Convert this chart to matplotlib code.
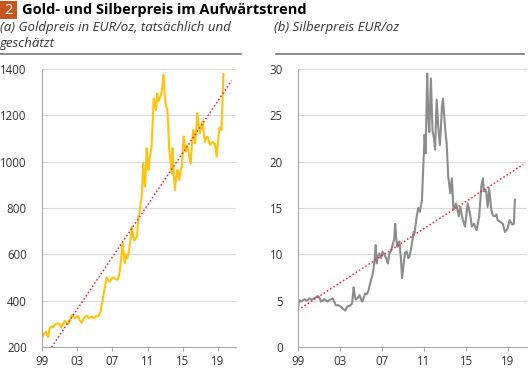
import numpy as np
import matplotlib.pyplot as plt
from matplotlib.patches import Rectangle

plt.rcParams['font.family'] = ['Open Sans', 'DejaVu Sans']

# Goldpreis EUR/oz
gold_years = [1999.0, 1999.1, 1999.3, 1999.45, 1999.7, 1999.85, 2000.1, 2000.3, 2000.5, 2000.85,
              2001.0, 2001.2, 2001.4, 2001.6, 2001.8, 2002.0, 2002.2, 2002.4, 2002.6, 2002.75,
              2003.0, 2003.1, 2003.3, 2003.5, 2003.7, 2003.9, 2004.1, 2004.3, 2004.5, 2004.65,
              2004.85, 2005.0, 2005.2, 2005.4, 2005.65, 2005.95, 2006.2, 2006.35, 2006.5, 2006.7,
              2006.9, 2007.1, 2007.3, 2007.55, 2007.7, 2007.85, 2008.0, 2008.15, 2008.3, 2008.4,
              2008.55, 2008.7, 2008.9, 2009.05, 2009.2, 2009.35, 2009.5, 2009.65, 2009.8, 2009.95,
              2010.05, 2010.2, 2010.3, 2010.4, 2010.5, 2010.6, 2010.7, 2010.8, 2010.9, 2011.0,
              2011.1, 2011.2, 2011.3, 2011.45, 2011.55, 2011.7, 2011.8, 2011.95, 2012.1, 2012.2,
              2012.3, 2012.45, 2012.6, 2012.7, 2012.8, 2012.9, 2013.0, 2013.1, 2013.25, 2013.35,
              2013.45, 2013.6, 2013.75, 2013.85, 2013.95, 2014.1, 2014.25, 2014.4, 2014.5, 2014.6,
              2014.75, 2014.9, 2015.0, 2015.1, 2015.2, 2015.35, 2015.45, 2015.6, 2015.75, 2015.9,
              2016.05, 2016.2, 2016.3, 2016.4, 2016.55, 2016.65, 2016.8, 2016.95, 2017.1, 2017.25,
              2017.4, 2017.5, 2017.65, 2017.8, 2017.95, 2018.1, 2018.25, 2018.4, 2018.55, 2018.65,
              2018.75, 2018.85, 2019.0, 2019.15, 2019.3, 2019.4, 2019.5, 2019.6, 2019.62]
gold_vals = [252, 247, 262, 266, 242, 280, 290, 285, 299, 302,
             298, 285, 300, 313, 305, 300, 320, 338, 330, 324,
             330, 334, 315, 305, 320, 331, 335, 324, 328, 331,
             323, 328, 335, 331, 352, 417, 470, 501, 490, 482,
             495, 501, 495, 489, 500, 532, 580, 648, 600, 561,
             600, 583, 619, 660, 719, 680, 659, 670, 676, 762,
             770, 820, 835, 900, 993, 930, 892, 960, 1058, 1000,
             964, 1010, 1029, 1065, 1150, 1273, 1250, 1223, 1295, 1260,
             1266, 1280, 1302, 1330, 1374, 1320, 1266, 1240, 1223, 1150,
             1058, 1000, 950, 1058, 960, 878, 930, 964, 940, 921,
             960, 978, 1050, 1108, 1080, 1043, 1070, 1058, 1020, 993,
             1080, 1137, 1110, 1079, 1150, 1209, 1160, 1122, 1150, 1173,
             1120, 1086, 1100, 1108, 1090, 1072, 1080, 1086, 1075, 1079,
             1050, 1022, 1080, 1144, 1150, 1137, 1250, 1374, 1378]

# Silberpreis EUR/oz
silver_years = [1999.0, 1999.1, 1999.3, 1999.6, 1999.85, 2000.1, 2000.3, 2000.55, 2000.9, 2001.05,
                2001.2, 2001.5, 2001.8, 2002.05, 2002.3, 2002.45, 2002.6, 2002.85, 2003.1, 2003.3,
                2003.5, 2003.65, 2003.8, 2004.0, 2004.15, 2004.3, 2004.4, 2004.5, 2004.7, 2004.85,
                2005.1, 2005.25, 2005.4, 2005.55, 2005.7, 2005.95, 2006.1, 2006.2, 2006.3, 2006.4,
                2006.5, 2006.6, 2006.75, 2006.9, 2007.05, 2007.2, 2007.4, 2007.55, 2007.7, 2007.85,
                2008.0, 2008.15, 2008.25, 2008.35, 2008.45, 2008.65, 2008.8, 2008.9, 2009.1, 2009.2,
                2009.35, 2009.5, 2009.6, 2009.75, 2009.85, 2010.0, 2010.1, 2010.3, 2010.45, 2010.6,
                2010.8, 2010.95, 2011.05, 2011.15, 2011.3, 2011.4, 2011.5, 2011.65, 2011.8, 2011.95,
                2012.05, 2012.2, 2012.35, 2012.5, 2012.6, 2012.7, 2012.8, 2012.95, 2013.05, 2013.15,
                2013.3, 2013.5, 2013.65, 2013.8, 2014.05, 2014.3, 2014.45, 2014.6, 2014.7, 2014.9,
                2015.05, 2015.15, 2015.3, 2015.45, 2015.55, 2015.75, 2016.0, 2016.15, 2016.25, 2016.45,
                2016.6, 2016.7, 2016.9, 2017.05, 2017.2, 2017.4, 2017.55, 2017.75, 2017.9, 2018.0,
                2018.25, 2018.5, 2018.7, 2018.95, 2019.15, 2019.4, 2019.55, 2019.65]
silver_vals = [4.2, 5.07, 4.9, 5.15, 5.0, 5.25, 5.1, 5.25, 5.5, 5.3,
               4.9, 5.15, 4.9, 5.1, 5.25, 4.9, 4.5, 4.5, 4.35, 4.1,
               3.92, 4.3, 4.42, 4.5, 4.7, 6.44, 5.6, 5.13, 5.3, 5.6,
               4.9, 5.3, 5.78, 5.7, 6.08, 7.23, 7.8, 8.49, 9.5, 11.0,
               9.03, 9.8, 10.1, 9.6, 10.3, 10.0, 9.57, 9.0, 10.1, 10.4,
               11.0, 11.6, 13.3, 11.8, 10.8, 11.4, 9.5, 7.41, 9.39, 10.2,
               10.3, 9.6, 9.74, 10.5, 11.2, 12.4, 12.3, 14.1, 15.0, 14.6,
               15.9, 20.2, 22.9, 20.9, 29.5, 25.0, 23.2, 29.0, 23.4, 22.5,
               21.3, 26.7, 23.8, 21.8, 23.5, 25.9, 26.8, 24.5, 23.0, 22.0,
               18.4, 16.6, 18.2, 14.8, 15.5, 14.1, 15.1, 14.2, 13.7, 13.0,
               14.5, 15.5, 14.8, 13.8, 13.0, 13.3, 12.6, 13.5, 14.1, 17.3,
               18.2, 16.8, 16.9, 15.1, 17.1, 14.8, 14.2, 14.1, 14.3, 13.7,
               13.5, 13.3, 12.4, 12.8, 13.7, 13.2, 13.3, 15.9]

# Trendlinien (Anfang/Ende)
gold_trend_years = [2000.1, 2020.55]
gold_trend_vals = [200, 1350]
silver_trend_years = [1999.0, 2020.45]
silver_trend_vals = [4.0, 19.7]

tick_years = [1999, 2003, 2007, 2011, 2015, 2019]
tick_labels = ['99', '03', '07', '11', '15', '19']

GOLD = '#FFC20E'
SILVER = '#8C8C8C'
TREND = '#E3262E'
TXT = '#333333'

fig = plt.figure(figsize=(5.28, 3.69), dpi=100)

# Titel mit Nummernkasten
fig.patches.append(Rectangle((0, 1 - 19 / 369), 17 / 528, 18 / 369, transform=fig.transFigure,
                             facecolor='#C7561E', edgecolor='none'))
fig.text(8.5 / 528, 1 - 10 / 369, '2', color='white', fontsize=10.5, ha='center', va='center')
fig.text(22 / 528, 1 - 10 / 369, 'Gold- und Silberpreis im Aufwärtstrend', fontsize=10.5,
         fontweight='bold', color='black', ha='left', va='center')
fig.text(0, 1 - 27 / 369, '(a) Goldpreis in EUR/oz, tatsächlich und', fontsize=9.5,
         style='italic', color=TXT, ha='left', va='center')
fig.text(0, 1 - 43 / 369, 'geschätzt', fontsize=9.5, style='italic', color=TXT, ha='left', va='center')
fig.text(274 / 528, 1 - 27 / 369, '(b) Silberpreis EUR/oz', fontsize=9.5,
         style='italic', color=TXT, ha='left', va='center')

# Trennlinien unter den Untertiteln
fig.add_artist(plt.Line2D([0, 241 / 528], [1 - 54 / 369] * 2, color='#777777', lw=1.2,
                          transform=fig.transFigure))
fig.add_artist(plt.Line2D([276 / 528, 524 / 528], [1 - 54 / 369] * 2, color='#777777', lw=1.2,
                          transform=fig.transFigure))

ax1 = fig.add_axes([42 / 528, 22 / 369, 194 / 528, 278 / 369])
ax2 = fig.add_axes([298 / 528, 22 / 369, 229 / 528, 278 / 369])


def style_axis(ax):
    ax.grid(axis='y', color='#D9D9D9', lw=0.8)
    ax.set_axisbelow(True)
    for s in ['top', 'right']:
        ax.spines[s].set_visible(False)
    for s in ['left', 'bottom']:
        ax.spines[s].set_color('#A6A6A6')
        ax.spines[s].set_linewidth(0.8)
    ax.set_xticks(tick_years)
    ax.set_xticklabels(tick_labels)
    ax.tick_params(axis='x', length=3, color='#A6A6A6', labelsize=8.3, labelcolor=TXT, pad=3)
    ax.tick_params(axis='y', length=0, labelsize=8.3, labelcolor=TXT, pad=11)


ax1.plot(gold_years, gold_vals, color=GOLD, lw=1.5)
ax1.plot(gold_trend_years, gold_trend_vals, color=TREND, lw=1.1, linestyle=(0, (1, 1.5)))
ax1.set_xlim(1999, 2021.05)
ax1.set_ylim(200, 1400)
ax1.set_yticks([200, 400, 600, 800, 1000, 1200, 1400])
style_axis(ax1)

ax2.plot(silver_years, silver_vals, color=SILVER, lw=1.5)
ax2.plot(silver_trend_years, silver_trend_vals, color=TREND, lw=1.1, linestyle=(0, (1, 1.5)))
ax2.set_xlim(1999, 2020.8)
ax2.set_ylim(0, 30)
ax2.set_yticks([0, 5, 10, 15, 20, 25, 30])
style_axis(ax2)

fig.savefig('out.png', dpi=100)
